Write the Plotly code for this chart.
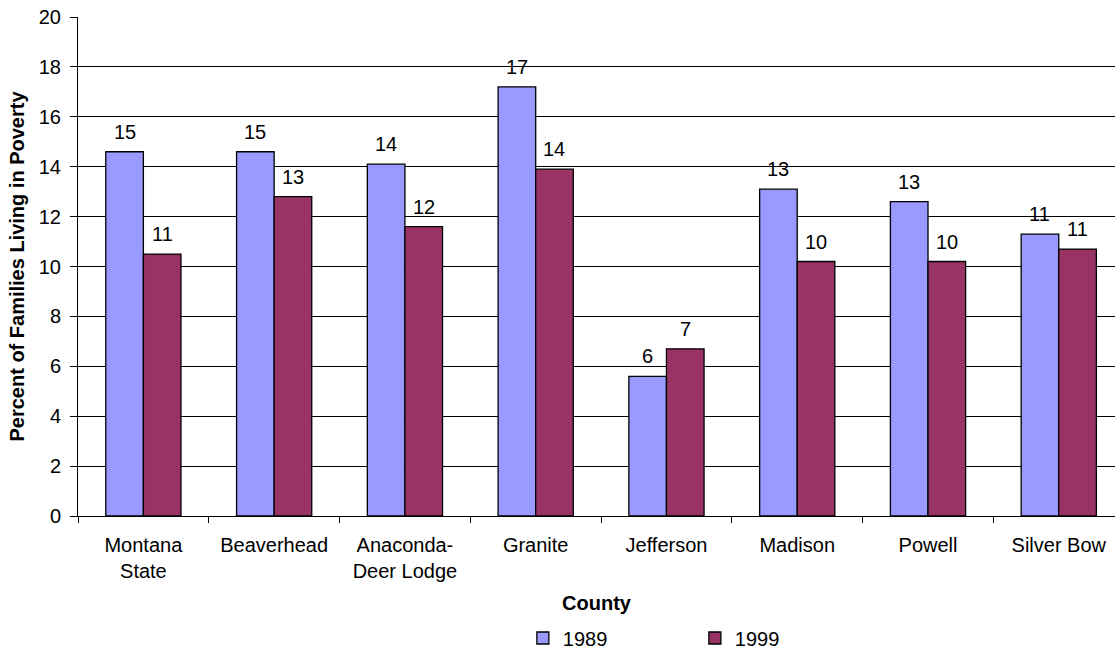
import plotly.graph_objects as go

# Percent of families living in poverty, by county
counties = ["Montana<br>State", "Beaverhead", "Anaconda-<br>Deer Lodge", "Granite",
            "Jefferson", "Madison", "Powell", "Silver Bow"]
pct_1989 = [14.6, 14.6, 14.1, 17.2, 5.6, 13.1, 12.6, 11.3]
pct_1999 = [10.5, 12.8, 11.6, 13.9, 6.7, 10.2, 10.2, 10.7]
years = ["1989", "1999"]
colors = ["#9999FF", "#993366"]

FONT = "Liberation Sans, Arial, sans-serif"
FS = 20
W, H = 1115, 652
ML, MR, MT, MB = 78, 0, 17, 136
BARGAP = 0.425
X_RANGE = [-0.5, 7.43]

fig = go.Figure()
for name, vals, col in zip(years, [pct_1989, pct_1999], colors):
    fig.add_trace(go.Bar(
        x=counties, y=vals, name=name,
        marker=dict(color=col, line=dict(color="black", width=1.3)),
        hoverinfo="skip",
    ))

# value labels above each bar (rounded half-up)
cat_px = (W - ML - MR) / (X_RANGE[1] - X_RANGE[0])
bar_px = cat_px * (1 - BARGAP) / 2
for k, vals in enumerate([pct_1989, pct_1999]):
    shift = (k - 0.5) * bar_px
    for c, v in zip(counties, vals):
        fig.add_annotation(
            x=c, y=v, xref="x", yref="y", text=str(int(v + 0.5)),
            showarrow=False, xanchor="center", yanchor="bottom",
            xshift=shift, yshift=7,
            font=dict(family=FONT, size=FS, color="black"),
        )

fig.update_layout(
    width=W, height=H,
    margin=dict(l=ML, r=MR, t=MT, b=MB, autoexpand=False),
    paper_bgcolor="white", plot_bgcolor="white",
    barmode="group", bargap=BARGAP, bargroupgap=0,
    font=dict(family=FONT, size=FS, color="black"),
    showlegend=True,
    legend=dict(orientation="h", x=0.429, xanchor="left", y=-0.2445, yanchor="middle",
                font=dict(family=FONT, size=FS), entrywidth=127,
                itemwidth=30, bgcolor="rgba(0,0,0,0)"),
)
fig.update_xaxes(
    range=X_RANGE, showline=True, linecolor="black", linewidth=1,
    ticks="outside", ticklen=6, tickcolor="black", tickson="boundaries",
    ticklabelstandoff=11,
    tickfont=dict(family=FONT, size=FS), showgrid=False,
    title=dict(text="<b>County</b>", font=dict(family=FONT, size=FS), standoff=14),
)
fig.update_yaxes(
    range=[0, 20], dtick=2, showline=True, linecolor="black", linewidth=1,
    ticks="outside", ticklen=7, tickcolor="black", ticklabelstandoff=5,
    showgrid=True, gridcolor="black", gridwidth=1, zeroline=False,
    tickfont=dict(family=FONT, size=FS),
    title=dict(text="<b>Percent of Families Living in Poverty</b>",
               font=dict(family=FONT, size=FS), standoff=8),
)

fig.write_html("out.html")
